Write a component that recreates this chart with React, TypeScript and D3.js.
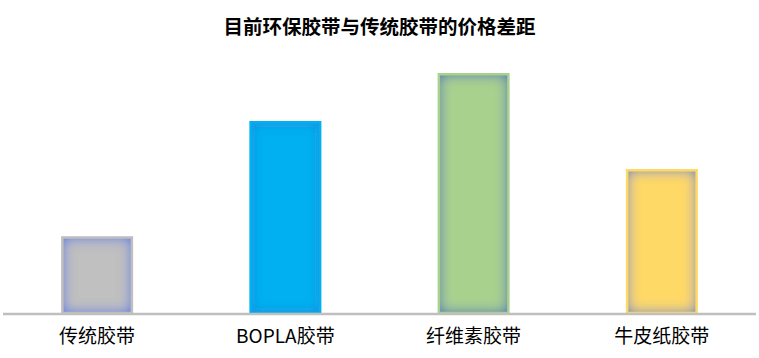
import React from "react";
import * as d3 from "d3";

const categories = ["传统胶带", "BOPLA胶带", "纤维素胶带", "牛皮纸胶带"];
const values = [0.8, 2.0, 2.5, 1.5];
const fillColors = ["#c0c0c0", "#00b0f0", "#a9d18e", "#ffd966"];
const edgeColors = ["#7a90d8", "#1598e2", "#6a90ac", "#98a0aa"];
const strokeColors = ["#bfbfbf", "#00b0f0", "#a9d18e", "#ffd966"];
const title = "目前环保胶带与传统胶带的价格差距";

const W = 759;
const H = 358;
const left = 3;
const right = 756;
const baseline = 313;
const topY = 73;
const sw = 2.5;

export default function App() {
  const x = d3
    .scaleBand<string>()
    .domain(categories)
    .range([left, right])
    .paddingInner(0.6175)
    .paddingOuter(0.30875);
  const y = d3.scaleLinear().domain([0, 2.5]).range([baseline, topY]);
  const font = "'Noto Sans CJK SC', 'Noto Sans', sans-serif";

  return (
    <svg
      width={W}
      height={H}
      style={{ position: "absolute", left: 0, top: 0, display: "block", background: "#fff" }}
    >
      <defs>
        {edgeColors.map((c, i) => (
          <filter key={i} id={`glow${i}`} x="-40%" y="-40%" width="180%" height="180%">
            <feFlood floodColor={c} floodOpacity={1} result="flood" />
            <feComposite in="flood" in2="SourceAlpha" operator="out" result="outside" />
            <feGaussianBlur in="outside" stdDeviation={7} result="blur" />
            <feComponentTransfer in="blur" result="boost">
              <feFuncA type="linear" slope={1.6} intercept={0} />
            </feComponentTransfer>
            <feComposite in="boost" in2="SourceAlpha" operator="in" result="inner" />
            <feMerge>
              <feMergeNode in="SourceGraphic" />
              <feMergeNode in="inner" />
            </feMerge>
          </filter>
        ))}
      </defs>
      <text
        x={(left + right) / 2}
        y={34}
        textAnchor="middle"
        fontFamily={font}
        fontWeight="bold"
        fontSize={19.5}
        fill="#000"
      >
        {title}
      </text>
      {categories.map((c, i) => {
        const bx = x(c)!;
        const bw = x.bandwidth();
        const by = y(values[i]);
        const bh = baseline - by;
        return (
          <g key={c}>
            <rect
              x={bx + sw / 2}
              y={by + sw / 2}
              width={bw - sw}
              height={bh - sw / 2}
              fill={fillColors[i]}
              filter={`url(#glow${i})`}
            />
            <rect
              x={bx + sw / 2}
              y={by + sw / 2}
              width={bw - sw}
              height={bh - sw / 2}
              fill="none"
              stroke={strokeColors[i]}
              strokeWidth={sw}
            />
          </g>
        );
      })}
      <line x1={left} x2={right} y1={314} y2={314} stroke="#bfbfbf" strokeWidth={2.5} />
      {categories.map((c) => (
        <text
          key={c}
          x={x(c)! + x.bandwidth() / 2}
          y={343}
          textAnchor="middle"
          fontFamily={font}
          fontSize={19}
          fill="#000"
        >
          {c}
        </text>
      ))}
    </svg>
  );
}
